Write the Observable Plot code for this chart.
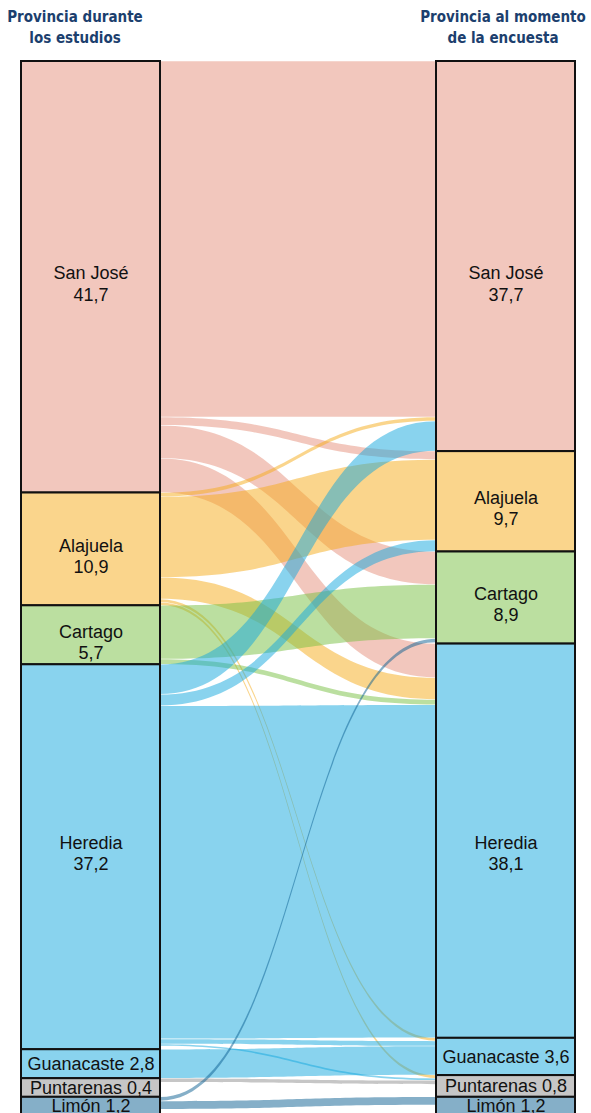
<!DOCTYPE html>
<html>
<head>
<meta charset="utf-8">
<script src="https://cdn.jsdelivr.net/npm/d3@7"></script>
<script src="https://cdn.jsdelivr.net/npm/@observablehq/plot@0.6"></script>
<style>
  html, body { margin: 0; padding: 0; background: #fff; overflow: hidden; }
  #wrap { position: relative; width: 591px; }
  .title { position: absolute; top: 7px; width: 200px; text-align: center;
           font-family: "DejaVu Sans Condensed", "Liberation Sans", sans-serif;
           font-weight: bold; font-size: 15px; line-height: 21px; color: #1c3f6e; }
</style>
</head>
<body>
<div id="wrap">
  <div class="title" style="left:-25px">Provincia durante<br>los estudios</div>
  <div class="title" style="left:403px">Provincia al momento<br>de la encuesta</div>
</div>
<script>
// ---- data ----
const provinces = ["San José", "Alajuela", "Cartago", "Heredia", "Guanacaste", "Puntarenas", "Limón"];
const leftValues = [41.7, 10.9, 5.7, 37.2, 2.8, 0.4, 1.2];   // Provincia durante los estudios
const rightValues = [37.7, 9.7, 8.9, 38.1, 3.6, 0.8, 1.2];  // Provincia al momento de la encuesta
// flows (source index -> target index, %)
const flowSource = [0, 0, 0, 0,   1, 1, 1, 1, 1,   2, 2,   3, 3, 3, 3, 3,   4,   5,   6, 6];
const flowTarget = [0, 1, 2, 3,   0, 1, 3, 4, 5,   2, 3,   0, 1, 3, 4, 5,   4,   5,   2, 6];
const flowValue  = [34.4, 0.8, 3.2, 3.3,   0.4, 7.8, 2.1, 0.3, 0.3,   5.2, 0.5,   2.9, 1.1, 32.2, 0.5, 0.2,   2.8,   0.4,   0.4, 0.8];
const twoLine = [true, true, true, true, false, false, false];

// ---- styles ----
const nodeColors = ["#f2c7bd", "#fad58c", "#bbdfa0", "#89d3ee", "#89d3ee", "#c6c6c6", "#85afc8"];
const flowColors = ["#e58f7b", "#f5ab19", "#77bf41", "#13a7dd", "#13a7dd", "#8d8d8d", "#0b5f91"];
const pxPerUnit = 10.35, plotTop = 61, yMax = 103.5;
const colW = 139 / 554;
const minH = 1.8;
const gap = 0.025;

// ---- layout (in data units) ----
function stackNodes(values) {
  let y = 0;
  return values.map(v => { const n = {y0: y, y1: y + Math.max(v, minH)}; y = n.y1; return n; });
}
const L = stackNodes(leftValues), R = stackNodes(rightValues);
const last = provinces.length - 1;
const common = Math.max(L[last].y0, R[last].y0);
for (const col of [L, R]) {
  const h = col[last].y1 - col[last].y0;
  col[last - 1].y1 = common; col[last].y0 = common; col[last].y1 = common + h;
}
const flows = flowValue.map((v, i) => ({s: flowSource[i], t: flowTarget[i], v, i}));
const sOff = L.map(n => n.y0), tOff = R.map(n => n.y0);
const bySource = [...flows].sort((a, b) => a.s - b.s || a.t - b.t);
for (const f of bySource) { f.sy0 = sOff[f.s]; f.sy1 = f.sy0 + f.v; sOff[f.s] = f.sy1; }
const byTarget = [...flows].sort((a, b) => a.t - b.t || a.s - b.s);
for (const f of byTarget) { f.ty0 = tOff[f.t]; f.ty1 = f.ty0 + f.v; tOff[f.t] = f.ty1; }

const ribbons = [];
for (const f of flows) {
  ribbons.push({id: f.i, x: colW, y1: f.sy0 + gap, y2: f.sy1 - gap, fill: flowColors[f.s]});
  ribbons.push({id: f.i, x: 1 - colW, y1: f.ty0 + gap, y2: f.ty1 - gap, fill: flowColors[f.s]});
}

const fmt = v => v.toFixed(1).replace(".", ",");
const nodes = [];
provinces.forEach((p, k) => {
  // the two large rows share one label line across the columns (centre of their joint span)
  const shared = L[k].y1 - L[k].y0 > 30 && R[k].y1 - R[k].y0 > 30;
  const joint = (Math.min(L[k].y0, R[k].y0) + Math.max(L[k].y1, R[k].y1)) / 2;
  for (const [side, col, vals] of [[0, L, leftValues], [1, R, rightValues]]) {
    nodes.push({
      x1: side ? 1 - colW : 0, x2: side ? 1 : colW, y1: col[k].y0, y2: col[k].y1, fill: nodeColors[k],
      xc: side ? 1 - colW / 2 : colW / 2,
      yc: shared ? joint : (col[k].y0 + col[k].y1) / 2,
      label: twoLine[k] ? `${p}\n${fmt(vals[k])}` : `${p} ${fmt(vals[k])}`, big: twoLine[k]
    });
  }
});

const height = Math.round(plotTop + yMax * pxPerUnit);
const chart = Plot.plot({
  width: 591,
  height,
  marginTop: plotTop, marginBottom: 0, marginLeft: 21, marginRight: 16,
  x: {domain: [0, 1], axis: null},
  y: {domain: [0, yMax], reverse: true, axis: null},
  color: {type: "identity"},
  style: {fontFamily: "'Liberation Sans', Arial, sans-serif", background: "white"},
  marks: [
    Plot.area(ribbons, {x1: "x", y1: "y1", y2: "y2", z: "id", fill: "fill", fillOpacity: 0.5, curve: "bump-x"}),
    Plot.rect(nodes, {x1: "x1", x2: "x2", y1: "y1", y2: "y2", fill: "fill", stroke: "#111", strokeWidth: 2}),
    Plot.text(nodes.filter(d => d.big), {x: "xc", y: "yc", text: "label", fontSize: 18, lineHeight: 1.17, fill: "#111", dy: 6}),
    Plot.text(nodes.filter(d => !d.big), {x: "xc", y: "yc", text: "label", fontSize: 18, fill: "#111"})
  ]
});
document.getElementById("wrap").prepend(chart);
</script>
</body>
</html>
